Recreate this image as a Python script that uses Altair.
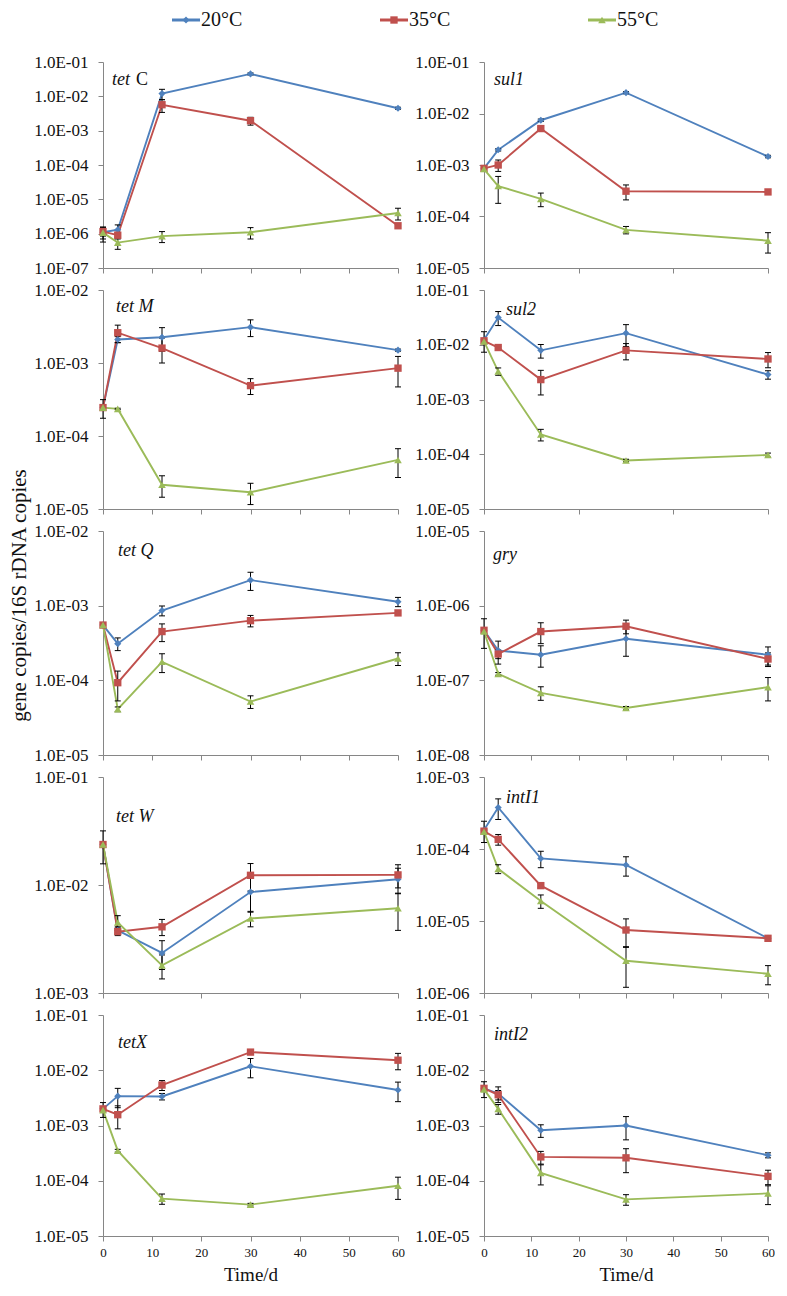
import altair as alt
import pandas as pd

DAYS = [0, 3, 12, 30, 60]
TEMPS = ["20°C", "35°C", "55°C"]
COLORS = ["#4F81BD", "#C0504D", "#9BBB59"]
SHAPES = ["diamond", "square", "triangle-up"]
MARKER_SIZES = [50, 58, 52]
FONT = "Liberation Serif"

# ---------------- data: mean and sd per gene / temperature ----------------
tetC_20 = [1.1e-6, 1.3e-6, 1.2e-2, 4.5e-2, 4.5e-3]
tetC_20_sd = [4e-7, 5e-7, 4e-3, 3e-3, 3e-4]
tetC_35 = [1.15e-6, 9e-7, 5.7e-3, 1.95e-3, 1.7e-6]
tetC_35_sd = [3e-7, 2e-7, 2.3e-3, 5e-4, 2e-7]
tetC_55 = [1.07e-6, 5.5e-7, 8.5e-7, 1.1e-6, 4e-6]
tetC_55_sd = [5e-7, 2e-7, 3e-7, 4e-7, 1.5e-6]

tetM_20 = [2.45e-4, 2.1e-3, 2.25e-3, 3.1e-3, 1.5e-3]
tetM_20_sd = [2e-5, 2e-4, 8e-4, 8e-4, 5e-5]
tetM_35 = [2.45e-4, 2.6e-3, 1.6e-3, 4.9e-4, 8.5e-4]
tetM_35_sd = [1e-5, 7e-4, 6e-4, 1.2e-4, 3.8e-4]
tetM_55 = [2.45e-4, 2.35e-4, 2.15e-5, 1.7e-5, 4.7e-5]
tetM_55_sd = [7e-5, 5e-6, 7e-6, 5.5e-6, 2e-5]

tetQ_20 = [5.5e-4, 3.1e-4, 8.6e-4, 2.2e-3, 1.13e-3]
tetQ_20_sd = [3e-5, 6e-5, 1.3e-4, 6e-4, 1.6e-4]
tetQ_35 = [5.5e-4, 9.3e-5, 4.5e-4, 6.3e-4, 8.0e-4]
tetQ_35_sd = [4e-5, 4e-5, 1.2e-4, 1.1e-4, 3e-5]
tetQ_55 = [5.5e-4, 4.1e-5, 1.77e-4, 5.2e-5, 1.96e-4]
tetQ_55_sd = [3e-5, 3e-6, 5e-5, 1e-5, 3.8e-5]

tetW_20 = [2.37e-2, 3.8e-3, 2.35e-3, 8.6e-3, 1.13e-2]
tetW_20_sd = [8e-3, 3e-4, 7e-4, 3e-3, 3e-3]
tetW_35 = [2.37e-2, 3.7e-3, 4.1e-3, 1.23e-2, 1.24e-2]
tetW_35_sd = [1e-3, 3e-4, 7e-4, 3.5e-3, 3e-3]
tetW_55 = [2.37e-2, 4.5e-3, 1.8e-3, 4.9e-3, 6.1e-3]
tetW_55_sd = [1e-3, 7e-4, 4.5e-4, 8e-4, 2.3e-3]

tetX_20 = [2.0e-3, 3.4e-3, 3.35e-3, 1.18e-2, 4.4e-3]
tetX_20_sd = [6e-4, 1.3e-3, 4.5e-4, 4.5e-3, 1.7e-3]
tetX_35 = [2.0e-3, 1.57e-3, 5.4e-3, 2.13e-2, 1.52e-2]
tetX_35_sd = [1e-4, 7e-4, 1.1e-3, 1.5e-3, 5e-3]
tetX_55 = [1.9e-3, 3.5e-4, 4.75e-5, 3.7e-5, 8.1e-5]
tetX_55_sd = [1e-4, 2e-5, 1e-5, 2e-6, 3.5e-5]

sul1_20 = [8.6e-4, 1.97e-3, 7.4e-3, 2.54e-2, 1.46e-3]
sul1_20_sd = [4e-5, 1e-4, 4e-4, 1.2e-3, 8e-5]
sul1_35 = [8.6e-4, 1.0e-3, 5.1e-3, 3.1e-4, 3.0e-4]
sul1_35_sd = [8e-5, 2.5e-4, 2e-4, 1e-4, 1e-5]
sul1_55 = [8.35e-4, 3.9e-4, 2.2e-4, 5.5e-5, 3.4e-5]
sul1_55_sd = [4e-5, 2.1e-4, 6.5e-5, 9e-6, 1.45e-5]

sul2_20 = [1.23e-2, 3.14e-2, 7.9e-3, 1.63e-2, 2.85e-3]
sul2_20_sd = [5e-3, 9e-3, 2.2e-3, 7e-3, 5e-4]
sul2_35 = [1.18e-2, 8.9e-3, 2.31e-3, 7.9e-3, 5.5e-3]
sul2_35_sd = [5e-4, 5e-4, 1.1e-3, 2.6e-3, 1.7e-3]
sul2_55 = [1.15e-2, 3.27e-3, 2.3e-4, 7.7e-5, 9.7e-5]
sul2_55_sd = [5e-4, 5e-4, 5.5e-5, 4e-6, 8e-6]

gry_20 = [4.68e-7, 2.5e-7, 2.2e-7, 3.6e-7, 2.2e-7]
gry_20_sd = [2e-7, 8.5e-8, 7e-8, 1.5e-7, 6e-8]
gry_35 = [4.68e-7, 2.25e-7, 4.5e-7, 5.3e-7, 1.93e-7]
gry_35_sd = [2e-8, 3e-8, 1.4e-7, 1.1e-7, 4e-8]
gry_55 = [4.5e-7, 1.22e-7, 6.8e-8, 4.26e-8, 8.1e-8]
gry_55_sd = [2e-8, 5e-9, 1.4e-8, 2e-9, 2.8e-8]

intI1_20 = [1.83e-4, 3.77e-4, 7.4e-5, 6.0e-5, 5.75e-6]
intI1_20_sd = [6e-5, 1.2e-4, 1.9e-5, 1.8e-5, 2e-7]
intI1_35 = [1.77e-4, 1.36e-4, 3.1e-5, 7.5e-6, 5.75e-6]
intI1_35_sd = [1e-5, 2.3e-5, 2e-6, 3.2e-6, 3e-7]
intI1_55 = [1.74e-4, 5.3e-5, 1.9e-5, 2.8e-6, 1.85e-6]
intI1_55_sd = [1e-5, 7.5e-6, 4e-6, 1.6e-6, 5.5e-7]

intI2_20 = [4.7e-3, 3.8e-3, 8.2e-4, 1.0e-3, 2.9e-4]
intI2_20_sd = [1.5e-3, 1.2e-3, 2.1e-4, 4.5e-4, 3e-5]
intI2_35 = [4.7e-3, 3.6e-3, 2.7e-4, 2.6e-4, 1.2e-4]
intI2_35_sd = [3e-4, 7e-4, 7e-5, 1.2e-4, 3.5e-5]
intI2_55 = [4.5e-3, 2.0e-3, 1.39e-4, 4.6e-5, 5.9e-5]
intI2_55_sd = [3e-4, 4e-4, 5.5e-5, 1e-5, 2.2e-5]

SERIES = {
    "tetC": [(tetC_20, tetC_20_sd), (tetC_35, tetC_35_sd), (tetC_55, tetC_55_sd)],
    "tetM": [(tetM_20, tetM_20_sd), (tetM_35, tetM_35_sd), (tetM_55, tetM_55_sd)],
    "tetQ": [(tetQ_20, tetQ_20_sd), (tetQ_35, tetQ_35_sd), (tetQ_55, tetQ_55_sd)],
    "tetW": [(tetW_20, tetW_20_sd), (tetW_35, tetW_35_sd), (tetW_55, tetW_55_sd)],
    "tetX": [(tetX_20, tetX_20_sd), (tetX_35, tetX_35_sd), (tetX_55, tetX_55_sd)],
    "sul1": [(sul1_20, sul1_20_sd), (sul1_35, sul1_35_sd), (sul1_55, sul1_55_sd)],
    "sul2": [(sul2_20, sul2_20_sd), (sul2_35, sul2_35_sd), (sul2_55, sul2_55_sd)],
    "gry": [(gry_20, gry_20_sd), (gry_35, gry_35_sd), (gry_55, gry_55_sd)],
    "intI1": [(intI1_20, intI1_20_sd), (intI1_35, intI1_35_sd), (intI1_55, intI1_55_sd)],
    "intI2": [(intI2_20, intI2_20_sd), (intI2_35, intI2_35_sd), (intI2_55, intI2_55_sd)],
}

# y-axis decades (exponent range) and x tick step per panel
Y_EXP = {"tetC": (-7, -1), "tetM": (-5, -2), "tetQ": (-5, -2), "tetW": (-3, -1),
         "tetX": (-5, -1), "sul1": (-5, -1), "sul2": (-5, -1), "gry": (-8, -5),
         "intI1": (-6, -3), "intI2": (-5, -1)}
X_STEP = {"tetC": 10, "tetM": 10, "tetQ": 10, "tetW": 20, "tetX": 10,
          "sul1": 20, "sul2": 20, "gry": 10, "intI1": 10, "intI2": 10}
# panel label pieces: (text, italic, x, y)
LABELS = {
    "tetC": [("tet", True, 9, 18), ("C", False, 33, 18)],
    "tetM": [("tet M", True, 13, 17)],
    "tetQ": [("tet Q", True, 15, 20)],
    "tetW": [("tet  W", True, 13, 40)],
    "tetX": [("tetX", True, 15, 28)],
    "sul1": [("sul1", True, 10, 18)],
    "sul2": [("sul2", True, 22, 20)],
    "gry": [("gry", True, 9, 24)],
    "intI1": [("intI1", True, 22, 21)],
    "intI2": [("intI2", True, 10, 20)],
}
Y_TITLE = "gene copies/16S rDNA copies"

LABEL_EXPR = ("'1.0E-' + (round(-log(datum.value)/LN10) < 10 ? '0' : '') + "
              "round(-log(datum.value)/LN10)")

COLOR = alt.Color("temp:N", scale=alt.Scale(domain=TEMPS, range=COLORS), legend=None)
SHAPE = alt.Shape("temp:N", scale=alt.Scale(domain=TEMPS, range=SHAPES), legend=None)
SIZE = alt.Size("temp:O", scale=alt.Scale(domain=TEMPS, range=MARKER_SIZES), legend=None)


def frame(gene):
    rows = []
    for temp, (vals, sds) in zip(TEMPS, SERIES[gene]):
        for d, v, s in zip(DAYS, vals, sds):
            rows.append(dict(day=d, temp=temp, value=v,
                             lo=max(v - s, v * 0.05), hi=v + s))
    return pd.DataFrame(rows)


def panel(gene, width, height, bottom=False, ytitle=False):
    lo_e, hi_e = Y_EXP[gene]
    df = frame(gene)
    yscale = alt.Scale(type="log", domain=[10.0 ** lo_e, 10.0 ** hi_e], nice=False)
    yargs = dict(values=[10.0 ** e for e in range(lo_e, hi_e + 1)], labelExpr=LABEL_EXPR,
                 tickSize=5, labelPadding=10, labelFontSize=17, labelOverlap=False,
                 labelFlush=False)
    if ytitle:
        yargs.update(title=Y_TITLE, titleX=-74, titleY=64, titleFontSize=21,
                     titleFontWeight="normal", titleAngle=270, titleBaseline="bottom")
    else:
        yargs.update(title=None)
    yaxis = alt.Axis(**yargs)

    xargs = dict(values=list(range(0, 61, X_STEP[gene])), tickSize=5, labelFlush=False)
    if bottom:
        xargs.update(labels=True, labelFontSize=13, labelPadding=5, title="Time/d",
                     titleFontSize=19, titleFontWeight="normal", titlePadding=6)
    else:
        xargs.update(labels=False, title=None)
    X = alt.X("day:Q", scale=alt.Scale(domain=[0, 60], nice=False, zero=False),
              axis=alt.Axis(**xargs))

    def Y(field):
        return alt.Y(field + ":Q", scale=yscale, axis=yaxis)

    base = alt.Chart(df)
    line = base.mark_line(strokeWidth=1.9).encode(x=X, y=Y("value"), color=COLOR, detail="temp:N")
    err = base.mark_rule(color="black", strokeWidth=1).encode(x=X, y=Y("lo"), y2="hi:Q")
    cap_hi = base.mark_point(shape="stroke", size=36, color="black", strokeWidth=1,
                             opacity=1).encode(x=X, y=Y("hi"))
    cap_lo = base.mark_point(shape="stroke", size=36, color="black", strokeWidth=1,
                             opacity=1).encode(x=X, y=Y("lo"))
    pts = base.mark_point(filled=True, opacity=1).encode(
        x=X, y=Y("value"), color=COLOR, shape=SHAPE, size=SIZE)

    texts = []
    for txt, italic, lx, ly in LABELS[gene]:
        t = alt.Chart(pd.DataFrame({"t": [txt]})).mark_text(
            align="left", baseline="middle", font=FONT, fontSize=18,
            fontStyle="italic" if italic else "normal", color="#111"
        ).encode(x=alt.value(lx), y=alt.value(ly), text="t:N")
        texts.append(t)

    return alt.layer(line, err, cap_hi, cap_lo, pts, *texts).properties(
        width=width, height=height)


LEFT = ["tetC", "tetM", "tetQ", "tetW", "tetX"]
RIGHT = ["sul1", "sul2", "gry", "intI1", "intI2"]
ROW_H = [206, 219, 224, 216, 221]
LEFT_W, RIGHT_W = 295, 284

# legend row (left cell carries the three entries, right cell is blank)
leg_df = pd.DataFrame({"temp": TEMPS})
LX = alt.X("temp:N", scale=alt.Scale(type="point", domain=TEMPS, range=[83, 499], padding=0),
           axis=None)
LY = alt.value(12)
leg_line = alt.Chart(leg_df).mark_point(shape="stroke", size=784, strokeWidth=3,
                                        opacity=1, filled=False).encode(x=LX, y=LY, color=COLOR)
leg_pts = alt.Chart(leg_df).mark_point(filled=True, opacity=1).encode(
    x=LX, y=LY, color=COLOR, shape=SHAPE, size=SIZE)
leg_txt = alt.Chart(leg_df).mark_text(align="left", baseline="middle", dx=15, fontSize=20,
                                      font=FONT, color="#111").encode(x=LX, y=LY, text="temp:N")
legend = alt.layer(leg_line, leg_pts, leg_txt).properties(width=LEFT_W, height=32)
blank = alt.Chart(leg_df).mark_text(opacity=0).encode(text="temp:N").properties(
    width=RIGHT_W, height=32)

cells = [legend, blank]
for i, (gl, gr) in enumerate(zip(LEFT, RIGHT)):
    cells.append(panel(gl, LEFT_W, ROW_H[i], bottom=(i == 4), ytitle=(gl == "tetQ")))
    cells.append(panel(gr, RIGHT_W, ROW_H[i], bottom=(i == 4)))

chart = alt.concat(
    *cells, columns=2, spacing={"row": 22, "column": 86}, bounds="flush"
).resolve_scale(
    x="independent", y="independent"
).properties(padding=0, background="white").configure_view(stroke=None).configure_axis(
    domainColor="#868686", tickColor="#868686", grid=False, labelFont=FONT,
    titleFont=FONT, labelColor="#111", titleColor="#111", domainWidth=1, tickWidth=1
)

chart.save("out.html", embed_options={"renderer": "svg", "actions": False})
